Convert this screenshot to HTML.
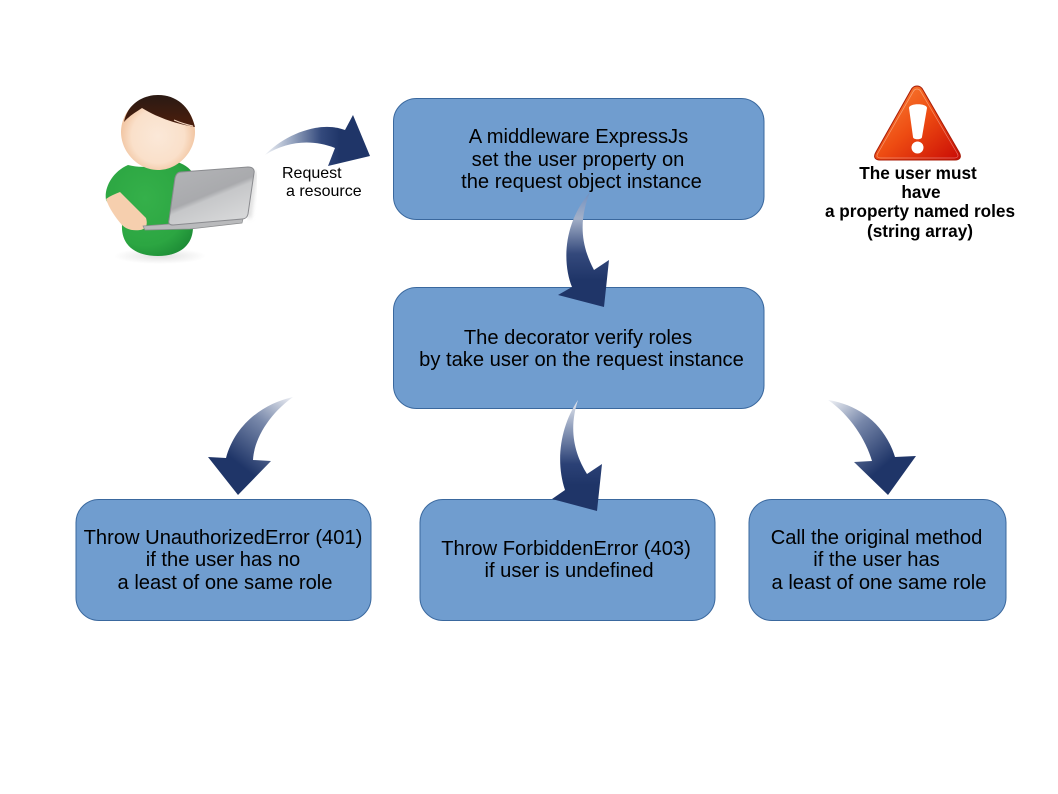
<!DOCTYPE html>
<html>
<head>
<meta charset="utf-8">
<style>
html,body{margin:0;padding:0;background:#fff;}
svg{display:block;}
text{font-family:"Liberation Sans",sans-serif;fill:#000;}
.m{font-size:20.15px;text-anchor:middle;}
.b{font-size:17.2px;font-weight:bold;text-anchor:middle;}
.s{font-size:16px;}
</style>
</head>
<body>
<svg width="1058" height="794" viewBox="0 0 1058 794" xmlns="http://www.w3.org/2000/svg">
<defs>
<linearGradient id="a1" gradientUnits="userSpaceOnUse" x1="265" y1="0" x2="340" y2="0"><stop offset="0" stop-color="#f0f2f6"/><stop offset=".35" stop-color="#9aa8c2"/><stop offset=".75" stop-color="#33497c"/><stop offset="1" stop-color="#1f3568"/></linearGradient>
<linearGradient id="a2" gradientUnits="userSpaceOnUse" x1="0" y1="192" x2="0" y2="280"><stop offset="0" stop-color="#6f8fc0"/><stop offset=".3" stop-color="#a3b0c8"/><stop offset=".7" stop-color="#34497c"/><stop offset="1" stop-color="#1f3568"/></linearGradient>
<linearGradient id="a4" gradientUnits="userSpaceOnUse" x1="293" y1="397" x2="240" y2="465"><stop offset="0" stop-color="#eef0f5"/><stop offset=".45" stop-color="#7888aa"/><stop offset="1" stop-color="#1f3568"/></linearGradient>
<linearGradient id="a5" gradientUnits="userSpaceOnUse" x1="0" y1="400" x2="0" y2="485"><stop offset="0" stop-color="#e6e9f0"/><stop offset=".35" stop-color="#8a99b8"/><stop offset=".75" stop-color="#2b4176"/><stop offset="1" stop-color="#1f3568"/></linearGradient>
<linearGradient id="a6" gradientUnits="userSpaceOnUse" x1="828" y1="400" x2="885" y2="465"><stop offset="0" stop-color="#f2f4f7"/><stop offset=".45" stop-color="#7686a9"/><stop offset="1" stop-color="#1f3568"/></linearGradient>
<radialGradient id="skin" cx=".5" cy=".55" r=".55"><stop offset="0" stop-color="#fbe8d8"/><stop offset=".65" stop-color="#fae0ca"/><stop offset="1" stop-color="#efbd96"/></radialGradient>
<linearGradient id="hair" x1="0" y1="0" x2="0" y2="1"><stop offset="0" stop-color="#2a1a14"/><stop offset="1" stop-color="#4d1e0c"/></linearGradient>
<radialGradient id="green" cx=".45" cy=".4" r=".7"><stop offset="0" stop-color="#35b04a"/><stop offset=".7" stop-color="#2ca642"/><stop offset="1" stop-color="#1c8a35"/></radialGradient>
<linearGradient id="lap" x1="0" y1="0" x2=".6" y2="1"><stop offset="0" stop-color="#b4b5b8"/><stop offset=".55" stop-color="#a9aaad"/><stop offset=".62" stop-color="#c6c7c9"/><stop offset="1" stop-color="#d6d7d8"/></linearGradient>
<linearGradient id="warn" x1="0" y1="0" x2="1" y2="1"><stop offset="0" stop-color="#fb8b3c"/><stop offset=".5" stop-color="#ee4c12"/><stop offset="1" stop-color="#c90a05"/></linearGradient>
<radialGradient id="shadow" cx=".5" cy=".5" r=".5"><stop offset="0" stop-color="#999" stop-opacity=".3"/><stop offset="1" stop-color="#999" stop-opacity="0"/></radialGradient>
<filter id="blur" x="-30%" y="-30%" width="160%" height="160%"><feGaussianBlur stdDeviation="2"/></filter>
</defs>

<!-- boxes -->
<g fill="#709dcf" stroke="#3a689e" stroke-width="1">
<rect x="393.5" y="98.5" width="370.500" height="121" rx="23"/>
<rect x="393.5" y="287.5" width="370.500" height="121" rx="23"/>
<rect x="76" y="499.5" width="295" height="121" rx="23"/>
<rect x="420" y="499.5" width="295" height="121" rx="23"/>
<rect x="749" y="499.5" width="257" height="121" rx="23"/>
</g>

<!-- box text -->
<text class="m" x="578.5" y="143">A middleware ExpressJs</text>
<text class="m" x="578" y="166">set the user property on</text>
<text class="m" x="581.500" y="188">the request object instance</text>
<text class="m" x="578" y="344">The decorator verify roles</text>
<text class="m" x="581.500" y="366">by take user on the request instance</text>
<text class="m" x="223" y="544">Throw UnauthorizedError (401)</text>
<text class="m" x="223" y="566">if the user has no</text>
<text class="m" x="225" y="589">a least of one same role</text>
<text class="m" x="566" y="555">Throw ForbiddenError (403)</text>
<text class="m" x="569" y="577">if user is undefined</text>
<text class="m" x="876.500" y="544">Call the original method</text>
<text class="m" x="876.500" y="566">if the user has</text>
<text class="m" x="879" y="589">a least of one same role</text>

<!-- arrows -->
<path d="M265 155 C283 136 318 120 345 130 L353 115 L370 156 L328 166 L335 148 C312 139 287 141 265 155Z" fill="url(#a1)"/>
<path d="M590 192 C581 215 578 240 594 270 L609 260 L604 307 L558 295 L572 287 C563 265 562 225 590 192Z" fill="url(#a2)"/>
<path d="M293 397 C262 404 235 425 226 458 L208 457 L238 495 L271 461 L253 460 C254 440 268 415 293 397Z" fill="url(#a4)"/>
<path d="M578 400 C561 425 555 460 565 490 L552 499 L597 511 L602 464 L587 474 C575 455 568 430 578 400Z" fill="url(#a5)"/>
<path d="M828 400 C860 405 885 425 895 457 L916 456 L888 495 L854 462 L872 461 C866 440 850 415 828 400Z" fill="url(#a6)"/>

<!-- arrow label -->
<text class="s" x="282" y="178">Request</text>
<text class="s" x="286" y="196">a resource</text>

<!-- person -->
<ellipse cx="160" cy="256" rx="46" ry="8" fill="url(#shadow)"/>
<path d="M128 165 C112 172 104 188 106 200 L122 225 C121 245 135 256 158 256 C180 256 193 245 193 227 L192 172 C188 166 180 162 170 160 C155 168 140 168 128 165Z" fill="url(#green)"/>
<path d="M106 199 C110 196 115 194 120 192 L146 218 C148 225 146 229 140 230 C132 231 126 229 122 225 C115 217 109 208 106 199Z" fill="#f6cfae"/>
<path d="M121 132 C121 112 138 95 158 95 C178 95 195 112 195 132 C195 152 178 170 158 170 C138 170 121 152 121 132Z" fill="url(#skin)"/>
<path d="M124 122 C127 105 142 95 158 95 C176 95 190 106 195 127 C178 124 160 119 142 108 C136 112 129 116 124 122Z" fill="url(#hair)"/>
<path d="M174 120 C181 123 188 125 193 126" stroke="#f3d7c2" stroke-width="1" fill="none"/>
<!-- laptop -->
<path d="M255 172 L249 218" stroke="#ccc" stroke-width="3" filter="url(#blur)" fill="none"/>
<path d="M143 226 L170 224 L243 219 L242 223 L190 229 L145 230Z" fill="#b9babc" stroke="#8c8d8f" stroke-width=".7"/>
<path d="M181 172 L248 167 C252 167 255 169 254 173 L248 214 C247 218 245 219 242 219 L173 225 C170 225 168 224 169 220 L175 178 C176 174 178 172 181 172Z" fill="url(#lap)" stroke="#8a8b8f" stroke-width="1"/>

<!-- warning -->
<path d="M917 86 C914 86 912 88 911 90 L876 152 C873 157 875 160 880 160 L955 160 C960 160 962 157 959 152 L923 90 C922 88 920 86 917 86Z" fill="url(#warn)" stroke="#a81c08" stroke-width="1"/>
<path d="M917 89 C915 89 914 90 913 92 L878 153 C876 156 877 158 881 158 L954 158 C958 158 959 156 957 153 L921 92 C920 90 919 89 917 89Z" fill="none" stroke="#fff" stroke-opacity=".4" stroke-width=".7"/>
<path d="M909 108 C909 103 927 103 927 108 L922 137 C922 140 913 140 913 137Z" fill="#fff"/>
<circle cx="917.500" cy="147.500" r="6" fill="#fff"/>

<!-- warning text -->
<text class="b" x="918" y="179">The user must</text>
<text class="b" x="921" y="198">have</text>
<text class="b" x="920" y="217">a property named roles</text>
<text class="b" x="920" y="237">(string array)</text>
</svg>
</body>
</html>
